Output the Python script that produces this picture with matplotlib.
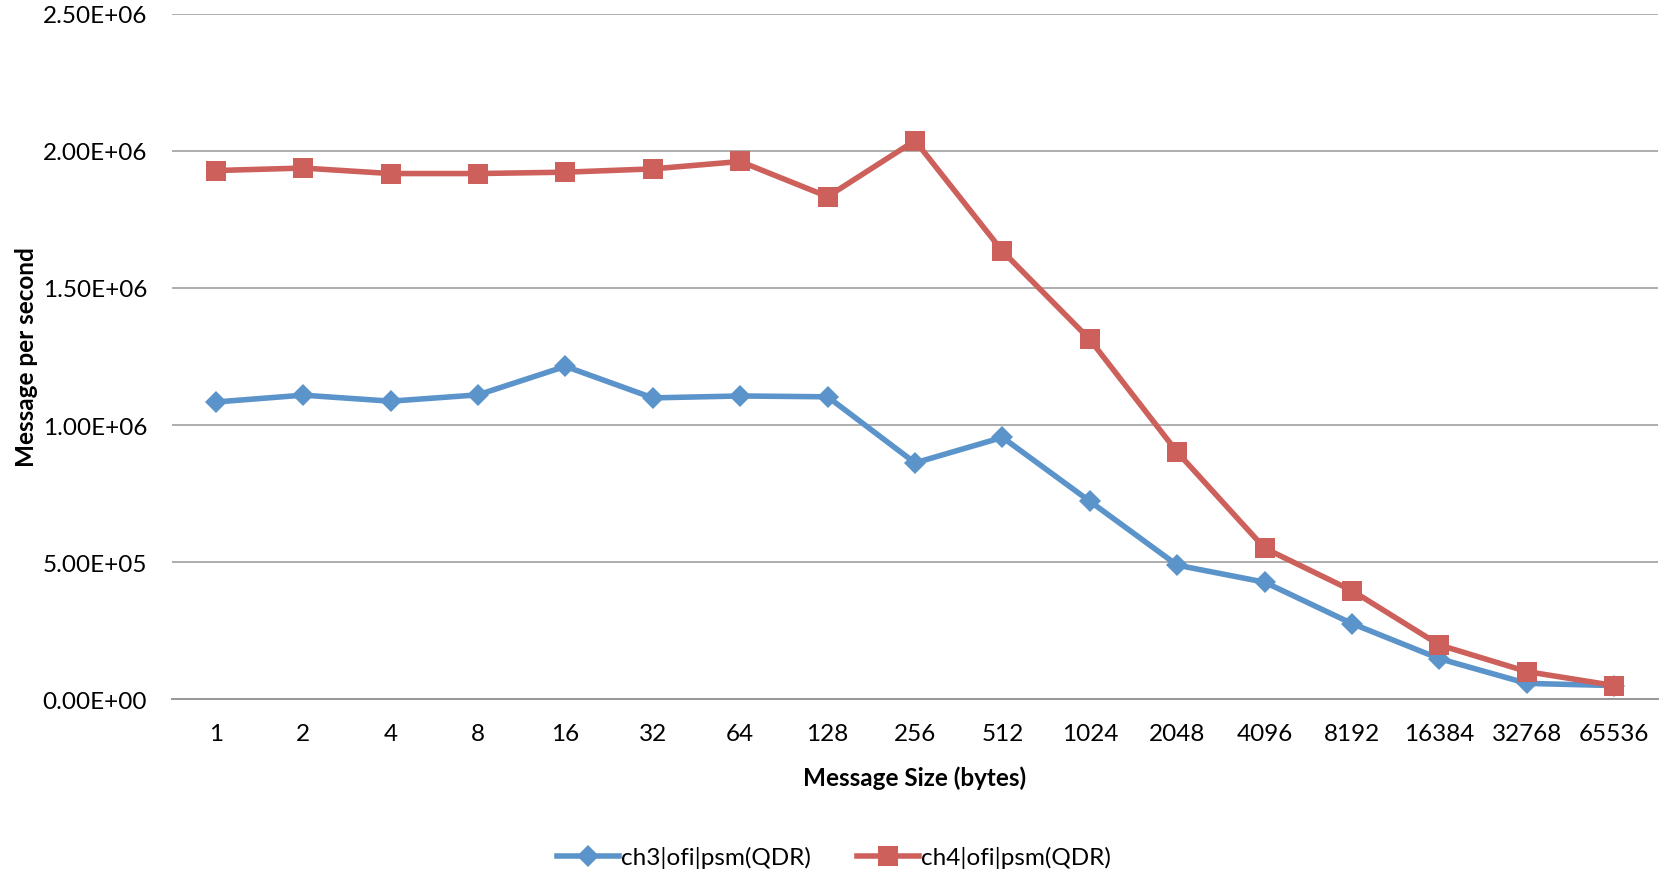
import matplotlib
matplotlib.use("Agg")
import matplotlib.pyplot as plt

# Message sizes (bytes) used as categories on the x axis
sizes = ["1", "2", "4", "8", "16", "32", "64", "128", "256", "512",
         "1024", "2048", "4096", "8192", "16384", "32768", "65536"]

# Message rate (messages per second) for each stack
ch3_rate = [1.084e6, 1.109e6, 1.087e6, 1.110e6, 1.214e6, 1.099e6, 1.106e6, 1.103e6,
            0.862e6, 0.955e6, 0.722e6, 0.489e6, 0.427e6, 0.276e6, 0.148e6, 0.058e6, 0.050e6]
ch4_rate = [1.928e6, 1.937e6, 1.917e6, 1.917e6, 1.922e6, 1.934e6, 1.961e6, 1.833e6,
            2.037e6, 1.634e6, 1.312e6, 0.901e6, 0.551e6, 0.396e6, 0.198e6, 0.101e6, 0.050e6]

series_names = ["ch3|ofi|psm(QDR)", "ch4|ofi|psm(QDR)"]

y_ticks = [0, 0.5e6, 1.0e6, 1.5e6, 2.0e6, 2.5e6]
y_tick_labels = ["0.00E+00", "5.00E+05", "1.00E+06", "1.50E+06", "2.00E+06", "2.50E+06"]

plt.rcParams["font.family"] = ["Lato", "DejaVu Sans"]
FS = 17.5

fig = plt.figure(figsize=(16.69, 8.78), dpi=100)
ax = fig.add_axes([0.1031, 0.2024, 0.8903, 0.7809])

x = list(range(len(sizes)))
blue = "#5B94CA"
red = "#CD605B"

ax.plot(x, ch3_rate, color=blue, lw=4.0, marker="D", markersize=11.5,
        markeredgewidth=0, label=series_names[0], zorder=3)
ax.plot(x, ch4_rate, color=red, lw=4.0, marker="s", markersize=14.5,
        markeredgewidth=0, label=series_names[1], zorder=4)

ax.set_xlim(-0.5, len(sizes) - 0.5)
ax.set_ylim(0, 2.5e6)
ax.set_xticks(x)
ax.set_xticklabels(sizes, fontsize=FS)
ax.set_yticks(y_ticks)
ax.set_yticklabels(y_tick_labels, fontsize=FS)
ax.tick_params(axis="both", length=0)
ax.tick_params(axis="y", pad=18)
ax.tick_params(axis="x", pad=17)

ax.grid(axis="y", color="#979797", lw=1.1)
ax.set_axisbelow(True)
for side in ("top", "right", "left"):
    ax.spines[side].set_visible(False)
ax.spines["bottom"].set_color("#979797")
ax.spines["bottom"].set_linewidth(1.4)

ax.set_xlabel("Message Size (bytes)", fontsize=FS, fontweight="bold")
ax.set_ylabel("Message per second", fontsize=FS, fontweight="bold")
ax.xaxis.set_label_coords(0.5, -0.096)
ax.yaxis.set_label_coords(-0.0905, 0.5)

fig.legend(loc="center", bbox_to_anchor=(834 / 1669, 1 - 858 / 878), ncol=2,
           frameon=False, fontsize=FS, handlelength=2.55, handletextpad=0.08,
           columnspacing=1.9)

fig.savefig("out.png", dpi=100)
